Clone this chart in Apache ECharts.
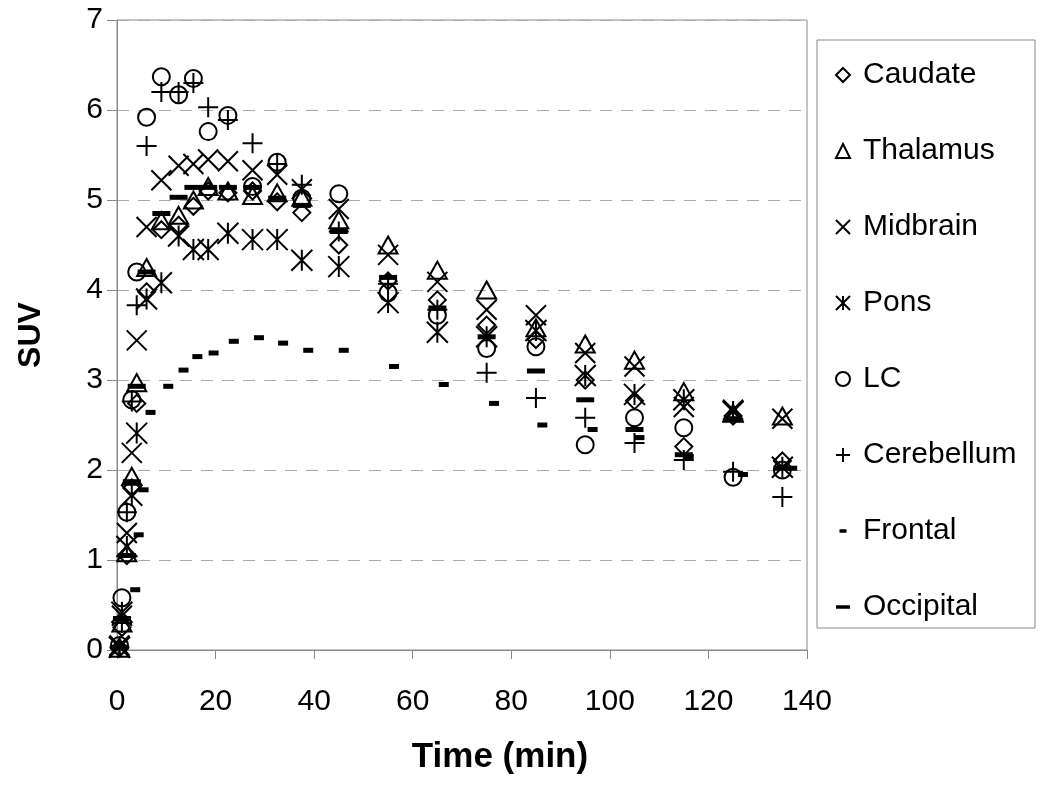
<!DOCTYPE html>
<html>
<head>
<meta charset="utf-8">
<script src="https://cdn.jsdelivr.net/npm/echarts@6/dist/echarts.min.js"></script>
<style>
html,body{margin:0;padding:0;background:#fff}
#chart{width:1050px;height:792px}
</style>
</head>
<body>
<div id="chart"></div>
<script>
// frame mid-times (min), shared by the regional curves
var times = [0.5, 1, 2, 3, 4, 6, 9, 12.5, 15.5, 18.5, 22.5, 27.5, 32.5, 37.5, 45, 55, 65, 75, 85, 95, 105, 115, 125, 135]

var caudate    = [0.02, 0.25, 1.05, 1.8, 2.74, 3.98, 4.67, 4.72, 4.93, 5.1, 5.08, 5.1, 4.98, 4.86, 4.5, 4.1, 3.89, 3.61, 3.45, 3.0, 2.77, 2.26, 2.6, 2.1]
var thalamus   = [0.02, 0.3, 1.08, 1.93, 2.97, 4.25, 4.77, 4.83, 5.0, 5.15, 5.1, 5.05, 5.08, 5.03, 4.78, 4.5, 4.22, 4.0, 3.58, 3.4, 3.22, 2.87, 2.63, 2.6]
var midbrain   = [0.05, 0.38, 1.3, 2.19, 3.44, 4.7, 5.22, 5.38, 5.4, 5.45, 5.43, 5.33, 5.28, 5.12, 4.9, 4.39, 4.09, 3.78, 3.72, 3.3, 3.15, 2.7, 2.67, 2.57]
var pons       = [0.03, 0.42, 1.15, 1.72, 2.41, 3.9, 4.08, 4.6, 4.45, 4.45, 4.63, 4.56, 4.56, 4.33, 4.26, 3.86, 3.53, 3.48, 3.55, 3.05, 2.84, 2.78, 2.65, 2.03]
var lc         = [0.05, 0.58, 1.53, 2.78, 4.2, 5.92, 6.37, 6.17, 6.35, 5.76, 5.94, 5.15, 5.42, 5.02, 5.07, 3.97, 3.72, 3.35, 3.37, 2.28, 2.58, 2.47, 1.92, 2.0]
var cerebellum = [0.03, 0.3, 1.53, 2.76, 3.83, 5.6, 6.2, 6.2, 6.3, 6.03, 5.89, 5.63, 5.4, 5.17, 4.65, 4.07, 3.78, 3.08, 2.8, 2.58, 2.3, 2.11, 1.98, 1.7]
var occipital  = [0.03, 0.35, 1.05, 1.87, 2.93, 4.2, 4.85, 5.03, 5.14, 5.14, 5.14, 5.14, 5.02, 4.94, 4.65, 4.14, 3.8, 3.48, 3.1, 2.78, 2.45, 2.17, 2.57, 2.02]

// frontal was sampled at its own times
var frontalTimes = [3.7, 4.4, 5.4, 6.8, 10.4, 13.5, 16.3, 19.6, 23.7, 28.8, 33.7, 38.8, 46, 56.2, 66.3, 76.5, 86.3, 96.5, 106, 116, 127, 137]
var frontal      = [0.67, 1.28, 1.78, 2.64, 2.93, 3.11, 3.26, 3.3, 3.43, 3.47, 3.41, 3.33, 3.33, 3.15, 2.95, 2.74, 2.5, 2.45, 2.36, 2.15, 1.95, 2.02]

var xTicks = [0, 140, 20]
var yTicks = [0, 7, 1]

var FONT = 'Liberation Sans, Arial, sans-serif'

function pts(t, v) {
	return t.map(function(x, i) { return [x, v[i]] })
}

var hollow = { color: 'transparent', borderColor: '#000', borderWidth: 2, opacity: 1 }
var solid = { color: '#000', borderWidth: 0, opacity: 1 }

var symX = 'path://M0,0L20,20M20,0L0,20'
var symPlus = 'path://M10,0L10,20M0,10L20,10'
var symStar = 'path://M0,0L20,20M20,0L0,20M10,0L10,20'
// bars for the legend: a zero-area diagonal keeps the box square so the bar stays small
var legFrontal = 'path://M0,0L20,20ZM5,7.5h10v5h-10z'
var legOccipital = 'path://M0,0L20,20ZM0,7.5h20v5h-20z'

var series = [
	{ name: 'Caudate', symbol: 'diamond', symbolSize: 17, data: pts(times, caudate), itemStyle: hollow },
	{ name: 'Thalamus', symbol: 'triangle', symbolSize: [19, 17], data: pts(times, thalamus), itemStyle: hollow },
	{ name: 'Midbrain', symbol: symX, symbolSize: 20, data: pts(times, midbrain), itemStyle: hollow },
	{ name: 'Pons', symbol: symStar, symbolSize: 21, data: pts(times, pons), itemStyle: hollow },
	{ name: 'LC', symbol: 'circle', symbolSize: 17, data: pts(times, lc), itemStyle: hollow },
	{ name: 'Cerebellum', symbol: symPlus, symbolSize: 20, data: pts(times, cerebellum), itemStyle: hollow },
	{ name: 'Frontal', symbol: 'rect', symbolSize: [10, 5], data: pts(frontalTimes, frontal), itemStyle: solid },
	{ name: 'Occipital', symbol: 'rect', symbolSize: [18, 5], data: pts(times, occipital), itemStyle: solid }
].map(function(s) {
	s.type = 'scatter'
	s.emphasis = { disabled: true }
	return s
})

var chart = echarts.init(document.getElementById('chart'), null, { renderer: 'canvas' })

chart.setOption({
	animation: false,
	backgroundColor: '#fff',
	grid: {
		left: 117, right: 243, top: 20, bottom: 142,
		show: true, borderColor: '#888', borderWidth: 1, backgroundColor: 'transparent'
	},
	graphic: [{
		type: 'rect', z: 0,
		shape: { x: 817, y: 40, width: 218, height: 588 },
		style: { fill: '#fff', stroke: '#888', lineWidth: 1 }
	}],
	legend: {
		orient: 'vertical', left: 830, top: 52, itemGap: 40,
		itemWidth: 14, itemHeight: 14,
		textStyle: { fontSize: 30, fontFamily: FONT, color: '#000', lineHeight: 36, padding: [0, 0, 0, 8] },
		data: ['Caudate', 'Thalamus', 'Midbrain', 'Pons', 'LC', 'Cerebellum',
			{ name: 'Frontal', icon: legFrontal },
			{ name: 'Occipital', icon: legOccipital }]
	},
	xAxis: {
		type: 'value', min: xTicks[0], max: xTicks[1], interval: xTicks[2],
		name: 'Time (min)', nameLocation: 'middle', nameGap: 90,
		nameTextStyle: { fontSize: 35, fontWeight: 'bold', fontFamily: FONT, color: '#000', padding: [0, 0, 0, 76] },
		axisLine: { lineStyle: { color: '#888', width: 1 } },
		axisTick: { show: true, length: 9, lineStyle: { color: '#888' } },
		axisLabel: { fontSize: 30, fontFamily: FONT, color: '#000', margin: 37 },
		splitLine: { show: false }
	},
	yAxis: {
		type: 'value', min: yTicks[0], max: yTicks[1], interval: yTicks[2],
		name: 'SUV', nameLocation: 'middle', nameGap: 70,
		nameTextStyle: { fontSize: 32, fontWeight: 'bold', fontFamily: FONT, color: '#000' },
		axisLine: { show: true, lineStyle: { color: '#888', width: 1 } },
		axisTick: { show: true, length: 10, lineStyle: { color: '#888' } },
		axisLabel: { fontSize: 30, fontFamily: FONT, color: '#000', margin: 14 },
		splitLine: { show: true, lineStyle: { color: '#aaa', type: [12, 9], width: 1 } }
	},
	series: series
})
</script>
</body>
</html>
